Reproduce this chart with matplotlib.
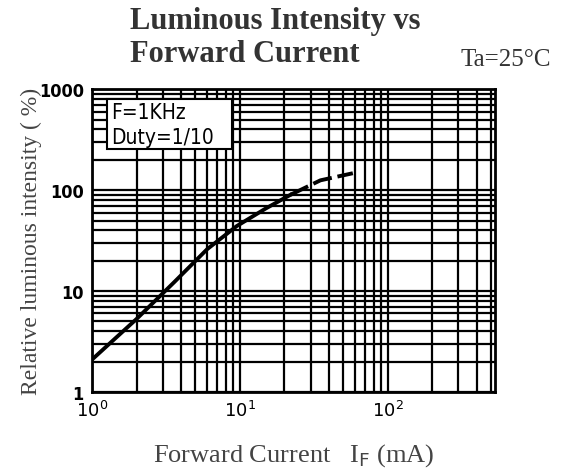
import matplotlib
matplotlib.use('Agg')
import matplotlib.pyplot as plt
from matplotlib.patches import Rectangle

# Curve (IF in mA, relative intensity in %)
current_solid = [1.0, 2.0, 3.6, 6.0, 9.5, 15, 22]
intensity_solid = [2.1, 5.3, 12.3, 26, 44, 66, 90]
current_dashed = [22, 35, 58]
intensity_dashed = [90, 125, 147]

y_ticks = [1, 10, 100, 1000]
y_ticklabels = ['1', '10', '100', '1000']
x_ticks = [1, 10, 100]
x_ticklabels = [r'$10^0$', r'$10^1$', r'$10^2$']

serif = 'Liberation Serif'

fig = plt.figure(figsize=(5.65, 4.77), dpi=100)
ax = fig.add_axes([0.163, 0.176, 0.713, 0.635])

ax.set_xscale('log')
ax.set_yscale('log')
ax.set_xlim(1, 530)
ax.set_ylim(1, 1000)

ax.grid(True, which='both', color='black', linewidth=1.6)
ax.set_axisbelow(True)
for s in ax.spines.values():
    s.set_linewidth(2)

ax.plot(current_solid, intensity_solid, color='black', linewidth=2.8, zorder=5)
ax.plot(current_dashed, intensity_dashed, color='black', linewidth=2.8,
        linestyle=(0, (5, 1.5)), zorder=5)

ax.set_yticks(y_ticks)
ax.set_yticklabels(y_ticklabels, fontsize=13, fontweight='bold', fontstretch='condensed')
ax.set_xticks(x_ticks)
ax.set_xticklabels(x_ticklabels, fontsize=13)
ax.tick_params(which='both', length=0, pad=6)

# condition box
ax.add_patch(Rectangle((0.037, 0.802), 0.31, 0.165, transform=ax.transAxes,
                       facecolor='white', edgecolor='black', linewidth=1.5, zorder=6))
ax.text(0.048, 0.925, 'F=1KHz', transform=ax.transAxes, fontsize=15,
        fontstretch='condensed', va='center', ha='left', zorder=7)
ax.text(0.048, 0.843, 'Duty=1/10', transform=ax.transAxes, fontsize=15,
        fontstretch='condensed', va='center', ha='left', zorder=7)

fig.text(0.23, 0.955, 'Luminous Intensity vs', family=serif, fontsize=22,
         fontweight='bold', color='#333333', ha='left', va='center')
fig.text(0.23, 0.885, 'Forward Current', family=serif, fontsize=22,
         fontweight='bold', color='#333333', ha='left', va='center')
fig.text(0.976, 0.875, 'Ta=25°C', family=serif, fontsize=18,
         color='#333333', ha='right', va='center')

ax.set_ylabel('Relative luminous intensity ( %)', family=serif, fontsize=17,
              color='#444444', labelpad=-2)
ax.set_xlabel(r'Forward Current   I$_\mathrm{F}$ (mA)', family=serif, fontsize=19,
              color='#444444', labelpad=15)

fig.savefig('out.png', dpi=100)
